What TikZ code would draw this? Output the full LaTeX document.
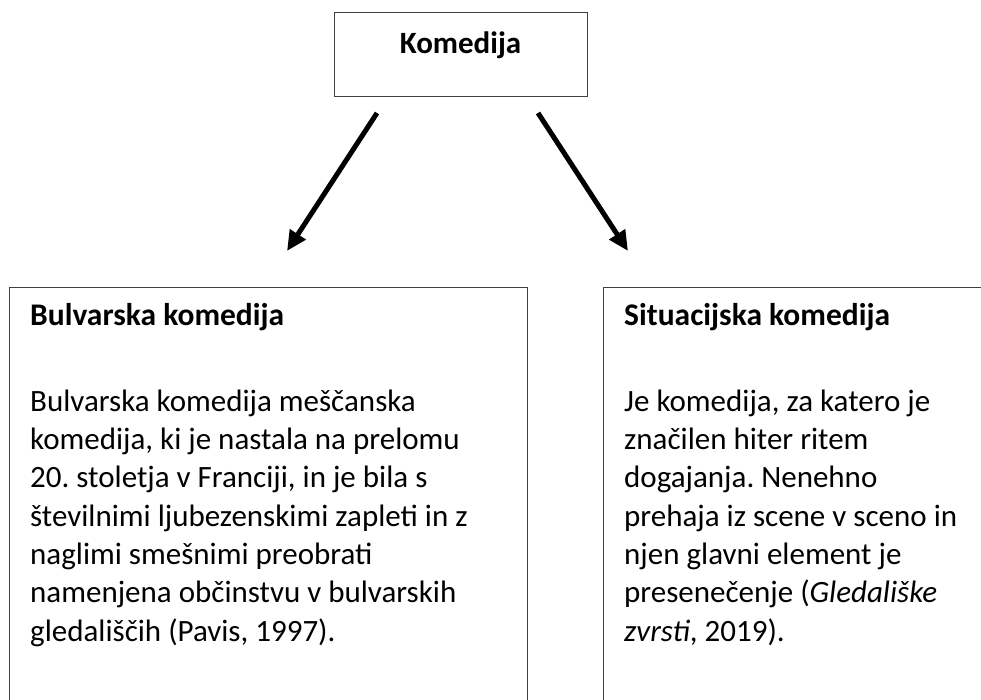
\documentclass[tikz,border=0pt]{standalone}
\usepackage{fontspec}
\setmainfont{Carlito}
\usetikzlibrary{positioning,arrows.meta}

\begin{document}
\begin{tikzpicture}[x=1pt, y=-1pt,
  every node/.style={font=\fontsize{31}{38.3}\selectfont\frenchspacing, inner sep=0pt},
  box/.style={draw=black!75, line width=1.2pt, anchor=north west},
  boxtitle/.style={font=\fontsize{31.5}{38.3}\selectfont\bfseries, anchor=base west},
  boxtext/.style={align=left, anchor=base west},
  link/.style={line width=5pt, -{Triangle[length=20pt, width=18pt]}}
]
  \clip (0,0) rectangle (981,699);

  % --- Top box ---
  \node[box, minimum width=253pt, minimum height=84pt] (komedija) at (334,12) {};
  \node[font=\fontsize{31}{38.3}\selectfont\bfseries, anchor=base] (komedija-title) at (460.5,53) {Komedija};

  % --- Lower boxes (run past the page edge) ---
  \node[box, minimum width=518pt, minimum height=440pt] (bulvarska) at (9,287) {};
  \node[box, minimum width=400pt, minimum height=440pt] (situacijska) at (603,287) {};

  % --- Texts in the lower boxes (base = last line) ---
  \node[boxtitle] (bulvarska-title) at (30,325) {Bulvarska komedija};
  \node[boxtext] (bulvarska-text) at (30,641)
    {Bulvarska komedija meščanska\\
     komedija, ki je nastala na prelomu\\
     20. stoletja v Franciji, in je bila s\\
     številnimi ljubezenskimi zapleti in z\\
     naglimi smešnimi preobrati\\
     namenjena občinstvu v bulvarskih\\
     gledališčih (Pavis, 1997).};

  \node[boxtitle] (situacijska-title) at (624,325) {Situacijska komedija};
  \node[boxtext] (situacijska-text) at (624,641)
    {Je komedija, za katero je\\
     značilen hiter ritem\\
     dogajanja. Nenehno\\
     prehaja iz scene v sceno in\\
     njen glavni element je\\
     presenečenje (\textit{Gledališke}\\
     \textit{zvrsti}, 2019).};

  % --- Arrows ---
  \coordinate (left-from)  at (377,113);
  \coordinate (left-to)    at (287,251);
  \coordinate (right-from) at (538,113);
  \coordinate (right-to)   at (628,251);
  \draw[link] (left-from) -- (left-to);
  \draw[link] (right-from) -- (right-to);

\end{tikzpicture}
\end{document}
